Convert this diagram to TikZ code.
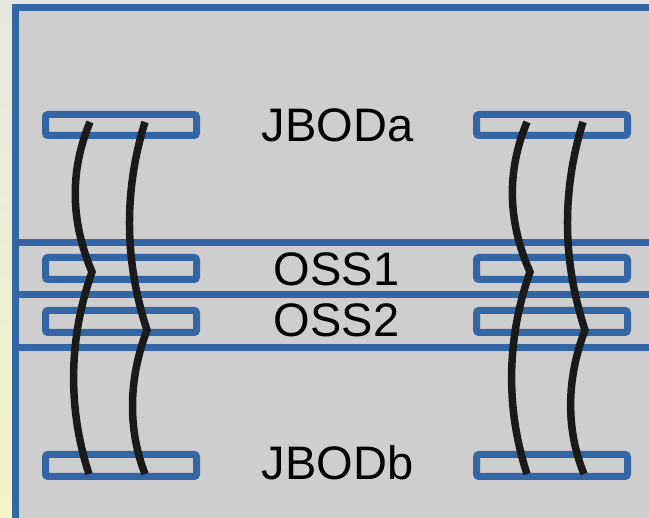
\documentclass[tikz,border=0pt]{standalone}
\usepackage{fontspec}
\setmainfont{Liberation Sans}
\definecolor{frameblue}{HTML}{3465A4}
\definecolor{panelgray}{HTML}{CECECE}
\definecolor{outsidetop}{HTML}{E4E8E0}
\definecolor{outsidemid}{HTML}{D8D8D8}
\definecolor{paleyellow}{HTML}{F4F4C8}
\definecolor{cableblack}{HTML}{1A1A1A}
\begin{document}
\begin{tikzpicture}[x=1pt,y=-1pt,
  frameline/.style={draw=frameblue,line width=7pt},
  slot/.style={draw=frameblue,line width=7pt,rounded corners=2.5pt,fill=panelgray},
  cable/.style={draw=cableblack,line width=7.5pt,miter limit=3},
  lbl/.style={font=\fontsize{47}{50}\selectfont,anchor=base,inner sep=0pt,text=black}]
\useasboundingbox (0,0) rectangle (649,518);
\clip (0,0) rectangle (649,518);
% outside background
\shade[top color=outsidetop,middle color=outsidemid,bottom color=paleyellow] (0,0) rectangle (649,518);
% panel
\fill[panelgray] (15.5,7.5) rectangle (660,530);
\draw[frameline] (15.5,530) -- (15.5,7.5) -- (660,7.5);
\draw[frameline] (15.5,243) -- (660,243);
\draw[frameline] (15.5,295) -- (660,295);
\draw[frameline] (15.5,348) -- (660,348);
% slots (left)
\draw[slot] (45.5,114.5) rectangle (196.5,135.5);
\draw[slot] (45.5,257.5) rectangle (196.5,279.5);
\draw[slot] (45.5,310.5) rectangle (196.5,332.5);
\draw[slot] (45.5,454.5) rectangle (196.5,476.5);
% slots (right)
\draw[slot] (476.5,114.5) rectangle (627.5,135.5);
\draw[slot] (476.5,257.5) rectangle (627.5,279.5);
\draw[slot] (476.5,310.5) rectangle (627.5,332.5);
\draw[slot] (476.5,454.5) rectangle (627.5,476.5);
% labels
\node[lbl] (ja) at (337.5,142) {JBODa};
\node[lbl] (o1) at (336.5,286) {OSS1};
\node[lbl] (o2) at (336.5,337) {OSS2};
\node[lbl] (jb) at (337.5,480) {JBODb};
% cable end points
\coordinate (a1t) at (90,122);   \coordinate (a1k) at (92,272);  \coordinate (a1b) at (89,474);
\coordinate (a2t) at (145,122);  \coordinate (a2k) at (147,330); \coordinate (a2b) at (145,474);
\coordinate (b1t) at (527,122);  \coordinate (b1k) at (530,272); \coordinate (b1b) at (527,474);
\coordinate (b2t) at (583,122);  \coordinate (b2k) at (585,330); \coordinate (b2b) at (584,474);
% cables
\draw[cable] (a1t) .. controls (70,170) and (70,220) .. (a1k)
             .. controls (68,340) and (68,410) .. (a1b);
\draw[cable] (a2t) .. controls (124,190) and (124,260) .. (a2k)
             .. controls (128,380) and (128,430) .. (a2b);
\draw[cable] (b1t) .. controls (507,170) and (507,220) .. (b1k)
             .. controls (506,340) and (506,410) .. (b1b);
\draw[cable] (b2t) .. controls (562,190) and (562,260) .. (b2k)
             .. controls (566,380) and (566,430) .. (b2b);
\end{tikzpicture}
\end{document}
